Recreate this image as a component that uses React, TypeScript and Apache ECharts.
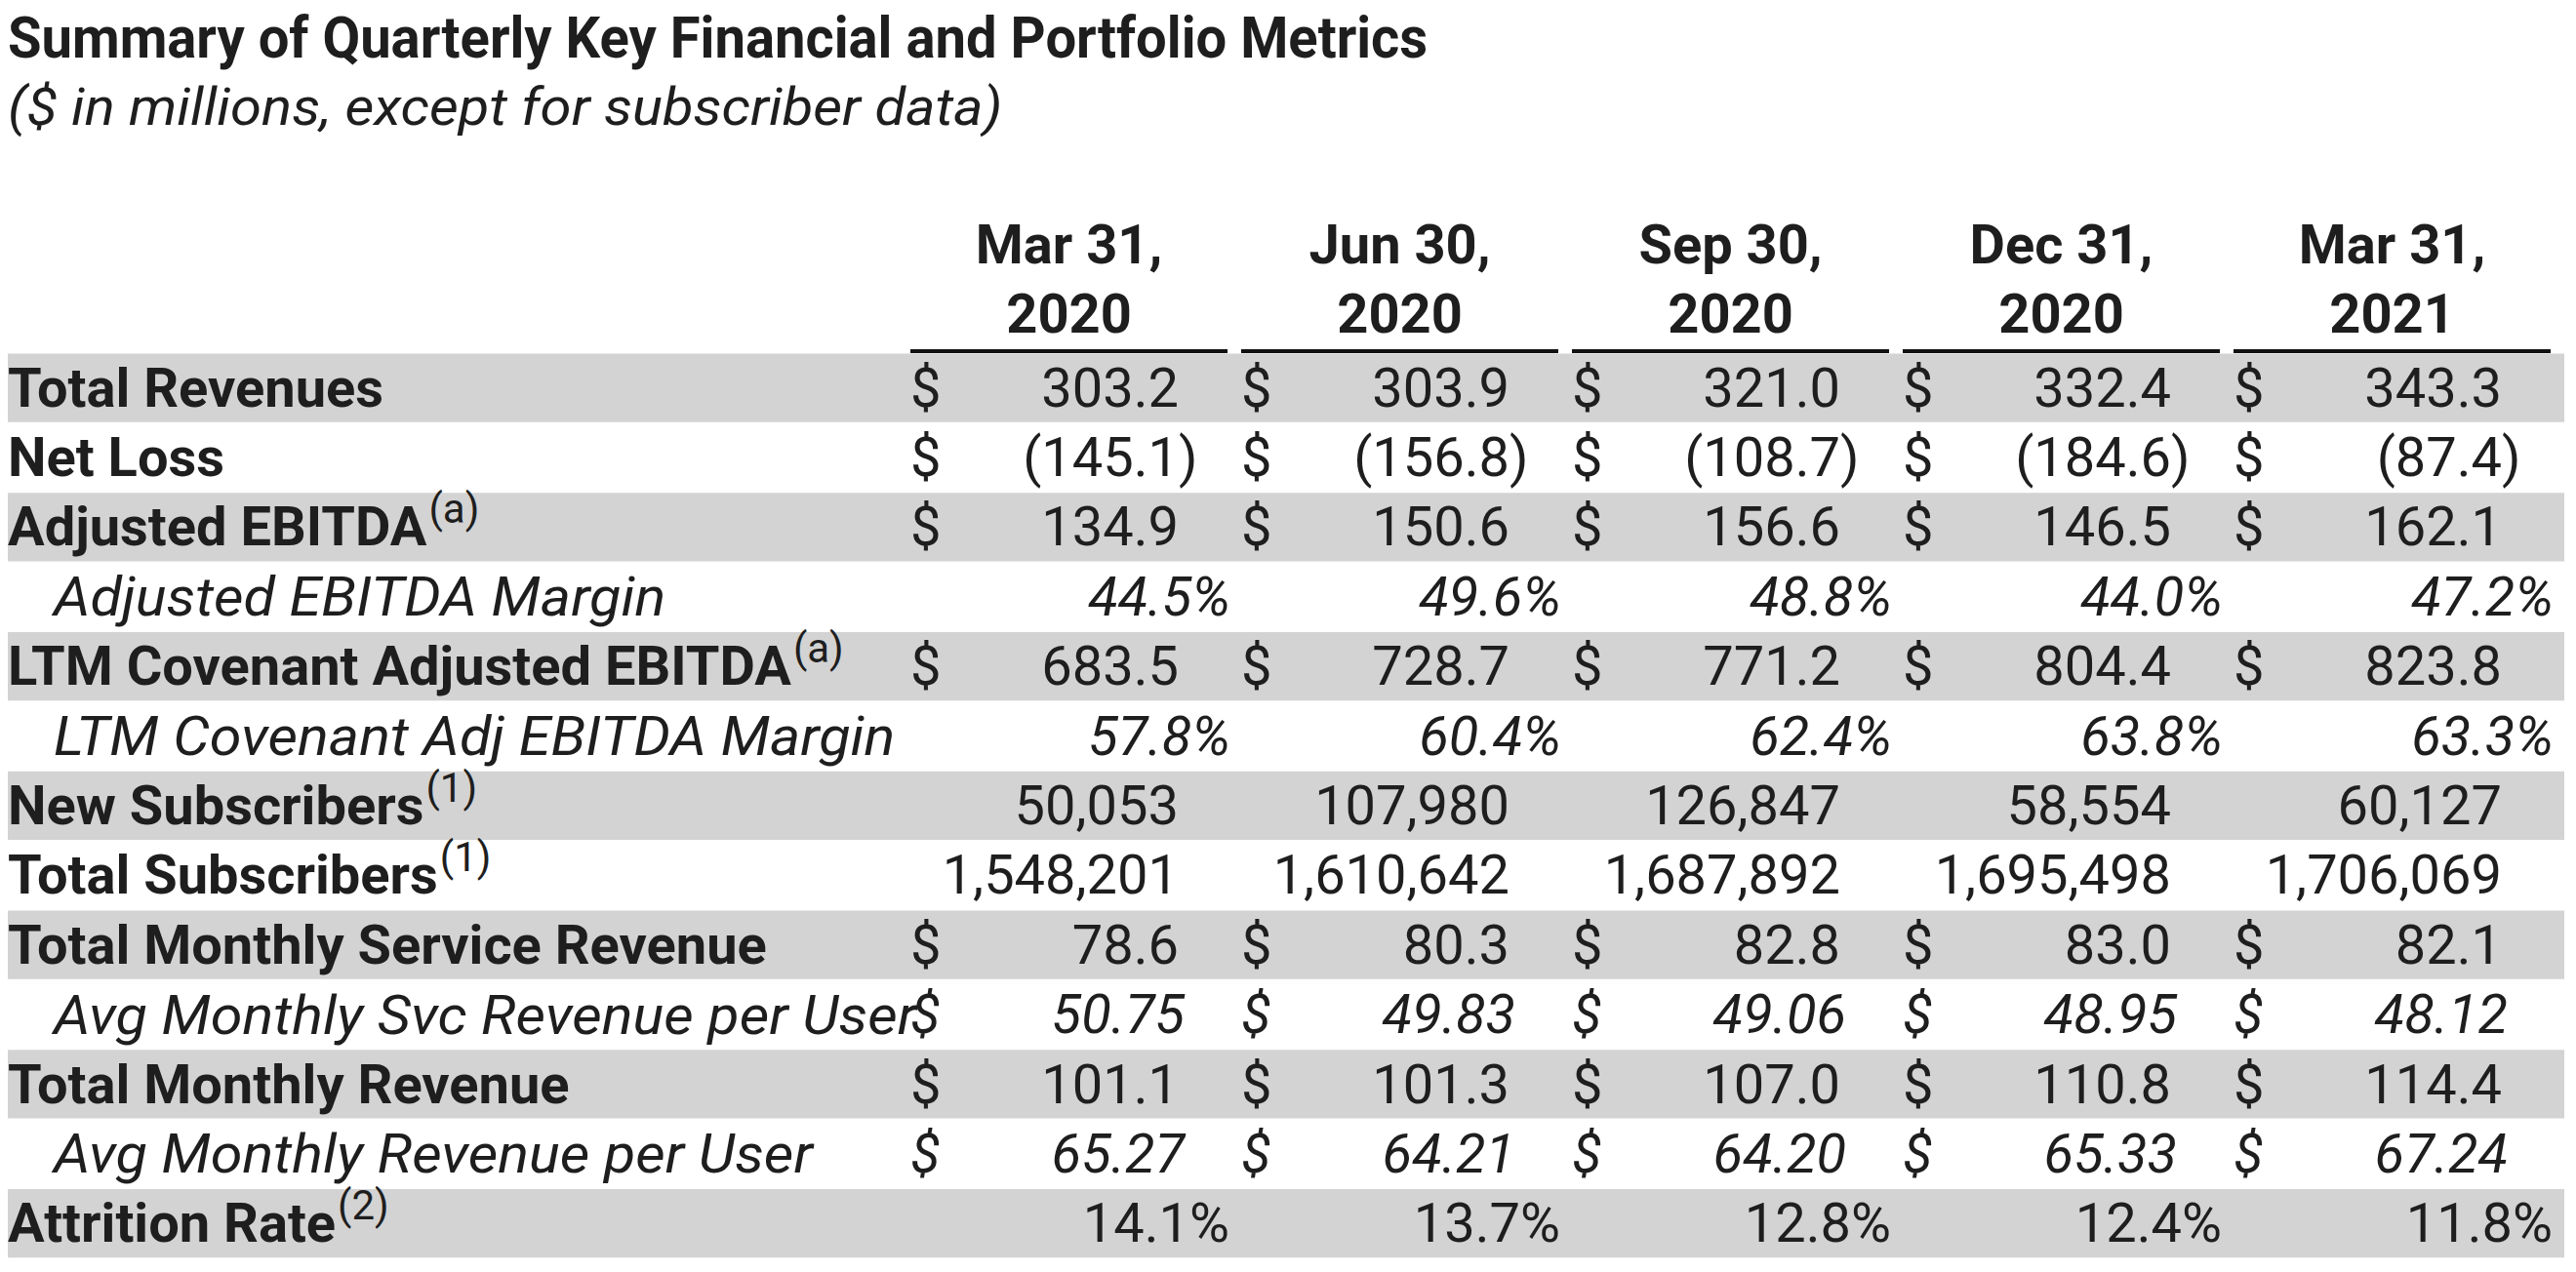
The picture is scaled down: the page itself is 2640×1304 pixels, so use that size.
import React, { useEffect, useRef } from 'react';
import * as echarts from 'echarts';

const TITLE = 'Summary of Quarterly Key Financial and Portfolio Metrics';
const SUBTITLE = '($ in millions, except for subscriber data)';
const periods = ['Mar 31,\n2020', 'Jun 30,\n2020', 'Sep 30,\n2020', 'Dec 31,\n2020', 'Mar 31,\n2021'];

const rowLabels = [
  'Total Revenues',
  'Net Loss',
  'Adjusted EBITDA',
  'Adjusted EBITDA Margin',
  'LTM Covenant Adjusted EBITDA',
  'LTM Covenant Adj EBITDA Margin',
  'New Subscribers',
  'Total Subscribers',
  'Total Monthly Service Revenue',
  'Avg Monthly Svc Revenue per User',
  'Total Monthly Revenue',
  'Avg Monthly Revenue per User',
  'Attrition Rate',
];
const rowNotes = ['', '', '(a)', '', '(a)', '', '(1)', '(1)', '', '', '', '', '(2)'];
const rowFormats = ['usd1', 'usd1', 'usd1', 'pctItalic', 'usd1', 'pctItalic', 'int', 'int', 'usd1', 'usd2Italic', 'usd1', 'usd2Italic', 'pct'];

const totalRevenues = [303.2, 303.9, 321.0, 332.4, 343.3];
const netLoss = [-145.1, -156.8, -108.7, -184.6, -87.4];
const adjustedEbitda = [134.9, 150.6, 156.6, 146.5, 162.1];
const adjustedEbitdaMargin = [44.5, 49.6, 48.8, 44.0, 47.2];
const ltmCovenantAdjEbitda = [683.5, 728.7, 771.2, 804.4, 823.8];
const ltmCovenantAdjEbitdaMargin = [57.8, 60.4, 62.4, 63.8, 63.3];
const newSubscribers = [50053, 107980, 126847, 58554, 60127];
const totalSubscribers = [1548201, 1610642, 1687892, 1695498, 1706069];
const totalMonthlyServiceRevenue = [78.6, 80.3, 82.8, 83.0, 82.1];
const avgMonthlySvcRevenuePerUser = [50.75, 49.83, 49.06, 48.95, 48.12];
const totalMonthlyRevenue = [101.1, 101.3, 107.0, 110.8, 114.4];
const avgMonthlyRevenuePerUser = [65.27, 64.21, 64.2, 65.33, 67.24];
const attritionRate = [14.1, 13.7, 12.8, 12.4, 11.8];

const rowValues = [
  totalRevenues,
  netLoss,
  adjustedEbitda,
  adjustedEbitdaMargin,
  ltmCovenantAdjEbitda,
  ltmCovenantAdjEbitdaMargin,
  newSubscribers,
  totalSubscribers,
  totalMonthlyServiceRevenue,
  avgMonthlySvcRevenuePerUser,
  totalMonthlyRevenue,
  avgMonthlyRevenuePerUser,
  attritionRate,
];

const FAMILY = 'Roboto';
const FS = 56;
const INK = '#1e1e1e';
const BAND = '#d3d3d3';
const GAP = 14;
const ITALIC_STRETCH = 1.06;

const fontOf = (weight: string, style: string, size: number) => `${style} ${weight} ${size}px ${FAMILY}`;
const F_BOLD = fontOf('bold', 'normal', FS);
const F_REG = fontOf('normal', 'normal', FS);
const F_ITAL = fontOf('normal', 'italic', FS);
const F_SUP = fontOf('normal', 'normal', 42);

let measureCtx: CanvasRenderingContext2D | null = null;
function measure(text: string, font: string) {
  if (!measureCtx) measureCtx = document.createElement('canvas').getContext('2d');
  measureCtx!.font = font;
  return measureCtx!.measureText(text).width;
}

function txt(x: number, y: number, text: string, font: string, align: string, extra: any = {}) {
  return {
    type: 'text',
    x,
    y,
    style: { text, font, fill: INK, align, verticalAlign: 'middle' },
    ...extra,
  };
}

export default function App() {
  const ref = useRef<HTMLDivElement>(null);
  useEffect(() => {
    document.body.style.margin = '0';
    const chart = echarts.init(ref.current!, null, { renderer: 'svg' });

    const titleFont = fontOf('bold', 'normal', 60);
    const subFont = fontOf('normal', 'italic', 53);
    const titleScale = 1456 / measure(TITLE, titleFont);
    const subScale = 1020 / measure(SUBTITLE, subFont);

    const cellData: number[][] = [];
    rowValues.forEach((vals, r) => vals.forEach((v, c) => cellData.push([c, r, v])));

    const option: any = {
      animation: false,
      backgroundColor: '#ffffff',
      grid: { left: 933, right: 12, top: 362, bottom: 14, containLabel: false },
      xAxis: { type: 'category', data: periods, show: false },
      yAxis: { type: 'category', data: rowLabels, inverse: true, show: false },
      graphic: [
        {
          type: 'text',
          x: 8,
          y: 38,
          scaleX: titleScale,
          style: { text: TITLE, font: titleFont, fill: INK, align: 'left', verticalAlign: 'middle' },
        },
        {
          type: 'text',
          x: 8,
          y: 110,
          scaleX: subScale,
          style: { text: SUBTITLE, font: subFont, fill: INK, align: 'left', verticalAlign: 'middle' },
        },
      ],
      series: [
        {
          type: 'custom',
          name: 'rows',
          z: 1,
          data: rowLabels.map((_, r) => [0, r]),
          renderItem: (params: any, api: any) => {
            const r = api.value(1);
            const [cx, cy] = api.coord([0, r]);
            const [cw, rh] = api.size([1, 1]);
            const lastX = api.coord([periods.length - 1, r])[0] + cw / 2;
            const top = cy - rh / 2;
            const italic = rowFormats[r].endsWith('Italic');
            const children: any[] = [];
            if (r % 2 === 0) {
              children.push({
                type: 'rect',
                shape: { x: 8, y: top + 0.5, width: lastX - 8, height: rh - 1.2 },
                style: { fill: BAND },
              });
            }
            const lx = italic ? 55 : 8;
            const font = italic ? F_ITAL : F_BOLD;
            const stretch = italic ? ITALIC_STRETCH : 1;
            children.push(txt(lx, cy, rowLabels[r], font, 'left', { scaleX: stretch }));
            if (rowNotes[r]) {
              const w = measure(rowLabels[r], font) * stretch;
              children.push(txt(lx + w + 2, cy - 19, rowNotes[r], F_SUP, 'left'));
            }
            return { type: 'group', children };
          },
        },
        {
          type: 'custom',
          name: 'headers',
          z: 3,
          data: periods.map((_, c) => [c, 0]),
          renderItem: (params: any, api: any) => {
            const c = api.value(0);
            const [cx, cy] = api.coord([c, 0]);
            const [cw, rh] = api.size([1, 1]);
            const top = cy - rh / 2;
            const L = cx - cw / 2;
            const R = cx + cw / 2 - GAP;
            const lines = periods[c].split('\n');
            const mid = (L + R) / 2;
            return {
              type: 'group',
              children: [
                txt(mid, top - 111, lines[0], F_BOLD, 'center'),
                txt(mid, top - 40, lines[1], F_BOLD, 'center'),
                { type: 'rect', shape: { x: L, y: top - 4, width: R - L, height: 4 }, style: { fill: '#111111' } },
              ],
            };
          },
        },
        {
          type: 'custom',
          name: 'cells',
          z: 2,
          data: cellData,
          renderItem: (params: any, api: any) => {
            const c = api.value(0);
            const r = api.value(1);
            const v = api.value(2);
            const [cx, cy] = api.coord([c, r]);
            const [cw] = api.size([1, 1]);
            const L = cx - cw / 2;
            const R = cx + cw / 2 - GAP;
            const numRight = R - 50;
            const fmt = rowFormats[r];
            const children: any[] = [];
            if (fmt === 'usd1') {
              children.push(txt(L, cy, '$', F_REG, 'left'));
              if (v < 0) {
                children.push(txt(numRight, cy, '(' + Math.abs(v).toFixed(1), F_REG, 'right'));
                children.push(txt(numRight, cy, ')', F_REG, 'left'));
              } else {
                children.push(txt(numRight, cy, v.toFixed(1), F_REG, 'right'));
              }
            } else if (fmt === 'usd2Italic') {
              children.push(txt(L, cy, '$', F_ITAL, 'left'));
              children.push(txt(numRight + 6, cy, v.toFixed(2), F_ITAL, 'right'));
            } else if (fmt === 'pctItalic') {
              children.push(txt(R + 3, cy, v.toFixed(1) + '%', F_ITAL, 'right'));
            } else if (fmt === 'pct') {
              children.push(txt(R + 2, cy, v.toFixed(1) + '%', F_REG, 'right'));
            } else if (fmt === 'int') {
              children.push(txt(numRight, cy, v.toLocaleString('en-US'), F_REG, 'right'));
            }
            return { type: 'group', children };
          },
        },
      ],
    };
    chart.setOption(option);
    return () => chart.dispose();
  }, []);
  return (
    <div
      ref={ref}
      style={{ position: 'absolute', left: 0, top: 0, width: 2640, height: 1304, background: '#fff' }}
    />
  );
}
